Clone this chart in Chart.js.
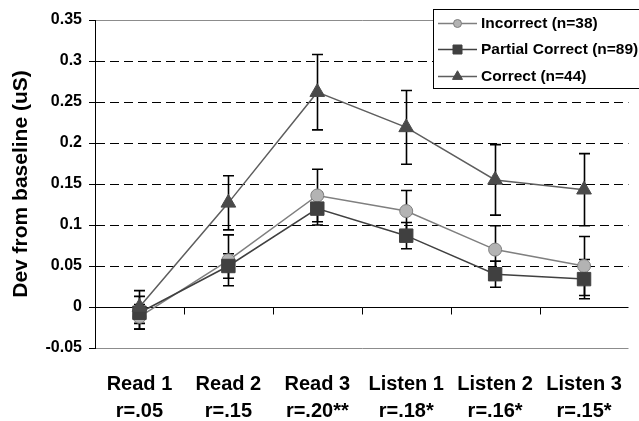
<!DOCTYPE html>
<html>
<head>
<meta charset="utf-8">
<script src="https://cdn.jsdelivr.net/npm/chart.js@4.4.0/dist/chart.umd.min.js"></script>
<style>
html, body { margin: 0; padding: 0; background: #fff; }
#wrap { width: 639px; height: 421px; }
</style>
</head>
<body>
<div id="wrap"><canvas id="myChart"></canvas></div>
<script>
const categories = ['Read 1', 'Read 2', 'Read 3', 'Listen 1', 'Listen 2', 'Listen 3'];
const rLabels = ['r=.05', 'r=.15', 'r=.20**', 'r=.18*', 'r=.16*', 'r=.15*'];

const incorrect    = [-0.012, 0.057, 0.136, 0.117, 0.070, 0.050];
const incorrectErr = [0.015, 0.031, 0.032, 0.025, 0.029, 0.036];
const partial      = [-0.007, 0.050, 0.120, 0.087, 0.040, 0.034];
const partialErr   = [0.020, 0.015, 0.020, 0.016, 0.016, 0.024];
const correct      = [0.000, 0.127, 0.262, 0.219, 0.155, 0.143];
const correctErr   = [0.020, 0.033, 0.046, 0.045, 0.043, 0.044];

const yMin = -0.05, yMax = 0.35, yStep = 0.05;
const FONT = "'Liberation Sans', Arial, sans-serif";

const ctx = document.getElementById('myChart').getContext('2d');

function drawMarker(c, style, x, y, r, fill, stroke) {
    c.save();
    c.fillStyle = fill;
    c.strokeStyle = stroke;
    c.lineWidth = 1;
    c.beginPath();
    if (style === 'circle') {
        c.arc(x, y, r, 0, Math.PI * 2);
    } else if (style === 'rect') {
        c.rect(x - r, y - r, r * 2, r * 2);
    } else {
        const R = r * 1.15;
        c.moveTo(x, y - R);
        c.lineTo(x + R * Math.sin(2 * Math.PI / 3), y - R * Math.cos(2 * Math.PI / 3));
        c.lineTo(x + R * Math.sin(4 * Math.PI / 3), y - R * Math.cos(4 * Math.PI / 3));
        c.closePath();
    }
    c.fill();
    c.stroke();
    c.restore();
}

// grid, zero line, x tick marks and error bars under the series
const backdrop = {
    id: 'backdrop',
    beforeDatasetsDraw(chart) {
        const c = chart.ctx;
        const { left, right } = chart.chartArea;
        const y = chart.scales.y, x = chart.scales.x;
        c.save();
        y.ticks.forEach(t => {
            const v = Math.round(t.value * 100) / 100;
            const py = Math.round(y.getPixelForValue(v)) + 0.5;
            c.beginPath();
            if (v === 0) {
                c.strokeStyle = '#000'; c.setLineDash([]);
            } else if (v === yMin || v === yMax) {
                c.strokeStyle = '#8c8c8c'; c.setLineDash([]);
            } else {
                c.strokeStyle = '#000'; c.setLineDash([9, 5]);
            }
            c.lineWidth = 1;
            c.moveTo(left + 1, py);
            c.lineTo(right, py);
            c.stroke();
        });
        c.setLineDash([]);
        // ticks between categories on the zero line
        const y0 = Math.round(y.getPixelForValue(0)) + 0.5;
        c.strokeStyle = '#000';
        for (let i = 1; i < categories.length; i++) {
            const px = Math.round((x.getPixelForValue(i - 1) + x.getPixelForValue(i)) / 2) + 0.5;
            c.beginPath();
            c.moveTo(px, y0);
            c.lineTo(px, y0 + 7);
            c.stroke();
        }
        // error bars
        const errs = [incorrectErr, partialErr, correctErr];
        chart.data.datasets.forEach((ds, i) => {
            const meta = chart.getDatasetMeta(i);
            meta.data.forEach((pt, j) => {
                const top = y.getPixelForValue(ds.data[j] + errs[i][j]);
                const bot = y.getPixelForValue(ds.data[j] - errs[i][j]);
                const px = Math.round(pt.x) + 0.5;
                c.lineWidth = 1.6;
                c.strokeStyle = '#000';
                c.beginPath();
                c.moveTo(px, top); c.lineTo(px, bot);
                c.moveTo(px - 5.5, top); c.lineTo(px + 5.5, top);
                c.moveTo(px - 5.5, bot); c.lineTo(px + 5.5, bot);
                c.stroke();
            });
        });
        c.restore();
    },
    afterDraw(chart) {
        const c = chart.ctx;
        c.save();
        c.fillStyle = '#fff';
        c.fillRect(433.5, 9.5, 210, 79);
        c.strokeStyle = '#000';
        c.lineWidth = 1;
        c.strokeRect(433.5, 9.5, 210, 79);
        const rows = [23, 49, 76];
        const marks = [
            { style: 'circle', r: 4, fill: '#b3b3b3', stroke: '#7f7f7f' },
            { style: 'rect', r: 4.5, fill: '#404040', stroke: '#404040' },
            { style: 'tri', r: 5, fill: '#4a4a4a', stroke: '#4a4a4a' }
        ];
        chart.data.datasets.forEach((ds, i) => {
            const yy = rows[i];
            c.strokeStyle = ds.borderColor;
            c.lineWidth = 1.5;
            c.beginPath();
            c.moveTo(438, yy + 0.5); c.lineTo(477, yy + 0.5);
            c.stroke();
            drawMarker(c, marks[i].style, 457.5, yy + 0.5, marks[i].r, marks[i].fill, marks[i].stroke);
            c.fillStyle = '#000';
            c.font = 'bold 15.5px ' + FONT;
            c.textBaseline = 'middle';
            c.textAlign = 'left';
            c.fillText(ds.label, 481, yy + 1);
        });
        c.restore();
    }
};

const config = {
    type: 'line',
    data: {
        labels: categories.map((c, i) => [c, rLabels[i]]),
        datasets: [
            {
                label: 'Incorrect (n=38)',
                data: incorrect,
                borderColor: '#7f7f7f',
                borderWidth: 1.5,
                pointStyle: 'circle',
                pointRadius: 6.5,
                pointBackgroundColor: '#b3b3b3',
                pointBorderColor: '#7f7f7f',
                pointBorderWidth: 1,
                order: 3
            },
            {
                label: 'Partial Correct (n=89)',
                data: partial,
                borderColor: '#404040',
                borderWidth: 1.5,
                pointStyle: 'rect',
                pointRadius: 9.5,
                pointBackgroundColor: '#404040',
                pointBorderColor: '#404040',
                pointBorderWidth: 1,
                order: 2
            },
            {
                label: 'Correct (n=44)',
                data: correct,
                borderColor: '#5e5e5e',
                borderWidth: 1.5,
                pointStyle: 'triangle',
                pointRadius: 8.5,
                pointBackgroundColor: '#4a4a4a',
                pointBorderColor: '#4a4a4a',
                pointBorderWidth: 1,
                order: 1
            }
        ]
    },
    options: {
        responsive: false,
        animation: false,
        devicePixelRatio: 1,
        layout: { padding: { top: 20, right: 0, left: 0, bottom: 0 } },
        plugins: {
            legend: { display: false },
            tooltip: { enabled: false }
        },
        scales: {
            x: {
                offset: true,
                grid: { display: false },
                border: { display: false },
                ticks: {
                    color: '#000',
                    padding: 15,
                    maxRotation: 0,
                    autoSkip: false,
                    font: { family: FONT, size: 20, weight: 'bold', lineHeight: 1.335 }
                },
                afterFit: s => { s.height = 73; }
            },
            y: {
                min: yMin,
                max: yMax,
                ticks: {
                    stepSize: yStep,
                    color: '#000',
                    padding: 7,
                    font: { family: FONT, size: 16, weight: 'bold' },
                    callback: v => String(Math.round(v * 100) / 100)
                },
                grid: {
                    drawOnChartArea: false,
                    drawTicks: true,
                    tickLength: 6,
                    tickColor: '#000'
                },
                border: { display: true, color: '#000', width: 1 },
                title: {
                    display: true,
                    text: 'Dev from baseline (uS)',
                    color: '#000',
                    padding: { top: 9, bottom: 0 },
                    font: { family: FONT, size: 21, weight: 'bold' }
                },
                afterFit: s => { s.width = 95; }
            }
        }
    },
    plugins: [backdrop]
};

const canvas = document.getElementById('myChart');
canvas.width = 639;
canvas.height = 421;
const myChart = new Chart(ctx, config);
</script>
</body>
</html>
